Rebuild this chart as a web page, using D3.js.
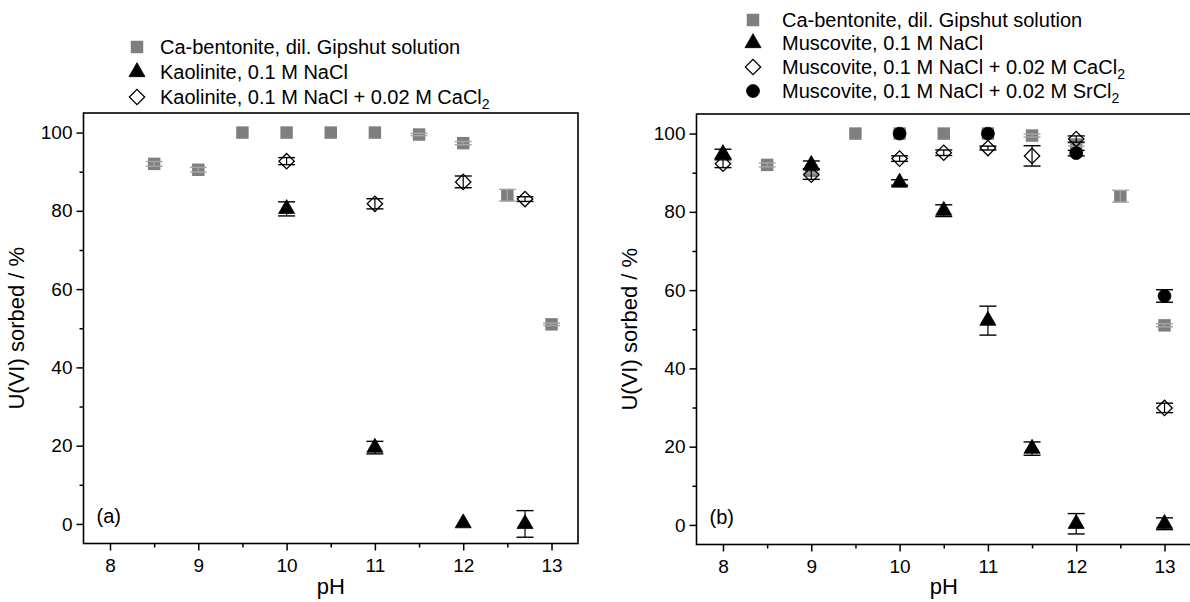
<!DOCTYPE html>
<html>
<head>
<meta charset="utf-8">
<script src="https://cdn.jsdelivr.net/npm/d3@7"></script>
<style>
  html, body { margin: 0; padding: 0; background: #fff; }
  svg { display: block; font-family: "Liberation Sans", Arial, sans-serif; }
</style>
</head>
<body>
<svg id="chart" width="1190" height="602"></svg>
<script>
// ---------- data ----------
const xTicks = [8, 9, 10, 11, 12, 13];
const yTicks = [0, 20, 40, 60, 80, 100];

// Panel (a)
const a_bentPH  = [8.5, 9, 9.5, 10, 10.5, 11, 11.5, 12, 12.5, 13];
const a_bentU   = [92, 90.5, 100, 100, 100, 100, 99.5, 97.3, 84, 51];
const a_bentErr = [0.6, 0.6, 0, 0, 0, 0, 0.3, 0.4, 1.5, 0.3];

const a_kaoNaPH  = [10, 11, 12, 12.7];
const a_kaoNaU   = [80.5, 19.5, 0.2, 0];
const a_kaoNaErr = [1.8, 1.6, 0, 3.4];

const a_kaoCaPH  = [10, 11, 12, 12.7];
const a_kaoCaU   = [92.7, 81.8, 87.4, 83];
const a_kaoCaErr = [0.9, 1.3, 1.5, 0.6];

// Panel (b)
const b_bentPH  = [8.5, 9, 9.5, 10, 10.5, 11, 11.5, 12, 12.5, 13];
const b_bentU   = [92, 90.5, 100, 100, 100, 100, 99.5, 97.2, 84, 51];
const b_bentErr = [0.5, 0.6, 0, 0, 0, 0, 0.4, 0.4, 1.5, 0.4];

const b_musNaPH  = [8, 9, 10, 10.5, 11, 11.5, 12, 13];
const b_musNaU   = [94.8, 92, 87.5, 80.3, 52.2, 19.5, 0.3, 0.3];
const b_musNaErr = [1.2, 1.0, 0.7, 1.5, 3.7, 1.7, 2.6, 1.5];

const b_musCaPH  = [8, 9, 10, 10.5, 11, 11.5, 12, 13];
const b_musCaU   = [92.3, 89.5, 93.6, 95.1, 96.3, 94.3, 98.6, 29.9];
const b_musCaErr = [1.0, 1.2, 0.7, 0.7, 0.5, 2.6, 0.8, 1.2];

const b_musSrPH  = [10, 11, 12, 13];
const b_musSrU   = [100, 100, 95, 58.5];
const b_musSrErr = [0, 0, 0.7, 1.6];

const legendA = ["Ca-bentonite, dil. Gipshut solution", "Kaolinite, 0.1 M NaCl", "Kaolinite, 0.1 M NaCl + 0.02 M CaCl|2"];
const legendB = ["Ca-bentonite, dil. Gipshut solution", "Muscovite, 0.1 M NaCl", "Muscovite, 0.1 M NaCl + 0.02 M CaCl|2", "Muscovite, 0.1 M NaCl + 0.02 M SrCl|2"];

// ---------- styles ----------
const GRAY = "#7f7f7f";
const styles = {
  square:   { shape: "square",   fill: GRAY, stroke: "none", bar: "#a6a6a6" },
  triangle: { shape: "triangle", fill: "#000", stroke: "#000", bar: "#000" },
  diamond:  { shape: "diamond",  fill: "none", stroke: "#000", bar: "#000" },
  circle:   { shape: "circle",   fill: "#000", stroke: "#000", bar: "#000" }
};

const svg = d3.select("#chart");

function symbolPath(shape) {
  if (shape === "square") return d3.symbol(d3.symbolSquare, 155)();
  if (shape === "triangle") return d3.symbol(d3.symbolTriangle, 112)();
  if (shape === "diamond") return d3.symbol(d3.symbolSquare, 118)();
  return d3.symbol(d3.symbolCircle, 130)();
}

function drawMarker(g, shape, cx, cy, st) {
  const p = g.append("path")
    .attr("d", symbolPath(shape))
    .attr("fill", st.fill)
    .attr("stroke", st.stroke)
    .attr("stroke-width", shape === "diamond" ? 1.3 : 0.8);
  if (shape === "diamond") p.attr("transform", `translate(${cx},${cy}) rotate(45)`);
  else p.attr("transform", `translate(${cx},${cy})`);
}

function drawPanel(opts) {
  const { x0, x1, y0, y1, series, label, legend, legX, legY, txtX } = opts;
  const x = d3.scaleLinear().domain([7.7, 13.3]).range([x0, x1]);
  const y = d3.scaleLinear().domain([-5, 105]).range([y1, y0]);
  const g = svg.append("g");

  const xMinor = d3.range(7.5, 13.31, 0.5).filter(v => v >= 7.7 && !Number.isInteger(v));
  const yMinor = [10, 30, 50, 70, 90];

  const xAxis = d3.axisBottom(x).tickValues(xTicks).tickSize(7).tickPadding(8).tickFormat(d3.format("d"));
  const yAxis = d3.axisLeft(y).tickValues(yTicks).tickSize(7).tickPadding(4).tickFormat(d3.format("d"));

  const gx = g.append("g").attr("transform", `translate(0,${y1})`).call(xAxis);
  const gy = g.append("g").attr("transform", `translate(${x0},0)`).call(yAxis);
  [gx, gy].forEach(ax => {
    ax.select(".domain").remove();
    ax.selectAll("line").attr("stroke", "#000").attr("stroke-width", 1.5);
    ax.selectAll("text").attr("fill", "#000").style("font-size", "19px");
  });
  g.append("g").attr("transform", `translate(0,${y1})`)
    .call(d3.axisBottom(x).tickValues(xMinor).tickSize(4).tickFormat(""))
    .call(a => { a.select(".domain").remove(); a.selectAll("line").attr("stroke", "#000").attr("stroke-width", 1.5); });
  g.append("g").attr("transform", `translate(${x0},0)`)
    .call(d3.axisLeft(y).tickValues(yMinor).tickSize(4).tickFormat(""))
    .call(a => { a.select(".domain").remove(); a.selectAll("line").attr("stroke", "#000").attr("stroke-width", 1.5); });

  g.append("rect").attr("x", x0).attr("y", y0).attr("width", x1 - x0).attr("height", y1 - y0)
    .attr("fill", "none").attr("stroke", "#000").attr("stroke-width", 1.6);

  series.forEach(s => {
    const st = styles[s.shape];
    const sg = g.append("g");
    s.ph.forEach((p, i) => {
      drawMarker(sg, s.shape, x(p), y(s.u[i]), st);
    });
    s.ph.forEach((p, i) => {
      const e = s.err[i];
      if (e <= 0) return;
      const cx = x(p), yt = y(s.u[i] + e), yb = y(s.u[i] - e);
      const bw = 8.5;
      sg.append("line").attr("x1", cx).attr("x2", cx).attr("y1", yt).attr("y2", yb)
        .attr("stroke", st.bar).attr("stroke-width", 1.2);
      [yt, yb].forEach(yy => sg.append("line").attr("x1", cx - bw).attr("x2", cx + bw)
        .attr("y1", yy).attr("y2", yy).attr("stroke", st.bar).attr("stroke-width", 1.4));
    });
  });

  g.append("text").attr("x", x0 + 13).attr("y", y(0) - 1).text(label)
    .style("font-size", "20px").attr("fill", "#000");

  g.append("text").attr("x", (x0 + x1) / 2).attr("y", 594).attr("text-anchor", "middle")
    .style("font-size", "22px").text("pH");
  g.append("text").attr("transform", `translate(${x0 - 60},${(y0 + y1) / 2}) rotate(-90)`)
    .attr("text-anchor", "middle").style("font-size", "22px").text("U(VI) sorbed / %");

  legend.forEach((t, i) => {
    const shape = series[i].shape;
    const cy = legY[i];
    drawMarker(g, shape, legX, cy, styles[shape]);
    const parts = t.split("|");
    const tx = g.append("text").attr("x", txtX).attr("y", cy + 7).style("font-size", "20px");
    tx.append("tspan").text(parts[0]);
    if (parts[1]) tx.append("tspan").attr("dy", 5).style("font-size", "14px").text(parts[1]);
  });
}

drawPanel({
  x0: 83.5, x1: 578, y0: 113, y1: 543.5, label: "(a)",
  series: [
    { shape: "square", ph: a_bentPH, u: a_bentU, err: a_bentErr },
    { shape: "triangle", ph: a_kaoNaPH, u: a_kaoNaU, err: a_kaoNaErr },
    { shape: "diamond", ph: a_kaoCaPH, u: a_kaoCaU, err: a_kaoCaErr }
  ],
  legend: legendA, legX: 137, legY: [47, 72, 97], txtX: 160
});

drawPanel({
  x0: 696.5, x1: 1191, y0: 114, y1: 544.5, label: "(b)",
  series: [
    { shape: "square", ph: b_bentPH, u: b_bentU, err: b_bentErr },
    { shape: "triangle", ph: b_musNaPH, u: b_musNaU, err: b_musNaErr },
    { shape: "diamond", ph: b_musCaPH, u: b_musCaU, err: b_musCaErr },
    { shape: "circle", ph: b_musSrPH, u: b_musSrU, err: b_musSrErr }
  ],
  legend: legendB, legX: 753, legY: [20, 43, 67, 91], txtX: 782
});
</script>
</body>
</html>
